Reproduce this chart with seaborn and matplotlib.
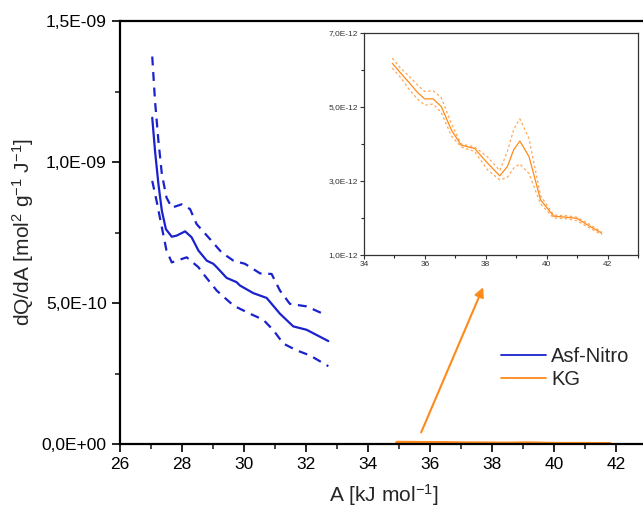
import numpy as np
import pandas as pd
import seaborn as sns
import matplotlib
matplotlib.use("Agg")
import matplotlib.pyplot as plt
from matplotlib.ticker import FuncFormatter, MultipleLocator, FixedLocator, NullFormatter
from matplotlib.lines import Line2D

# ---------------- datos ----------------
# Asf-Nitro (curva media y bandas superior / inferior), dQ/dA en mol2 g-1 J-1
asf_x = [27.04, 27.13, 27.24, 27.35, 27.48, 27.67, 27.83, 28.10, 28.31, 28.53, 28.80,
         29.01, 29.12, 29.44, 29.76, 29.87, 30.30, 30.73, 31.16, 31.59, 32.02, 32.72]
asf_y = [1.157e-9, 1.039e-9, 0.921e-9, 0.827e-9, 0.762e-9, 0.735e-9, 0.739e-9, 0.754e-9,
         0.733e-9, 0.686e-9, 0.650e-9, 0.639e-9, 0.627e-9, 0.589e-9, 0.574e-9, 0.562e-9,
         0.535e-9, 0.518e-9, 0.462e-9, 0.417e-9, 0.405e-9, 0.365e-9]

asf_up_x = [27.04, 27.13, 27.24, 27.35, 27.50, 27.67, 27.99, 28.26, 28.47, 28.90, 29.28,
            29.66, 30.03, 30.52, 30.89, 31.16, 31.48, 32.02, 32.67]
asf_up_y = [1.374e-9, 1.216e-9, 1.074e-9, 0.957e-9, 0.874e-9, 0.838e-9, 0.850e-9, 0.833e-9,
            0.780e-9, 0.727e-9, 0.679e-9, 0.650e-9, 0.639e-9, 0.605e-9, 0.603e-9, 0.544e-9,
            0.497e-9, 0.488e-9, 0.456e-9]

asf_lo_x = [27.04, 27.18, 27.35, 27.50, 27.67, 28.15, 28.53, 28.69, 29.12, 29.66, 30.19,
            30.62, 30.95, 31.27, 31.70, 32.13, 32.72]
asf_lo_y = [0.933e-9, 0.862e-9, 0.768e-9, 0.686e-9, 0.644e-9, 0.662e-9, 0.627e-9, 0.603e-9,
            0.544e-9, 0.491e-9, 0.462e-9, 0.441e-9, 0.403e-9, 0.356e-9, 0.332e-9, 0.314e-9,
            0.276e-9]

# KG (inset)
kg_x = [34.93, 35.20, 35.46, 35.75, 35.99, 36.27, 36.54, 36.87, 37.19, 37.63, 38.06, 38.46,
        38.71, 38.92, 39.12, 39.42, 39.80, 40.23, 40.67, 40.99, 41.43, 41.81]
kg_y = [6.18e-12, 5.92e-12, 5.68e-12, 5.40e-12, 5.22e-12, 5.22e-12, 5.01e-12, 4.38e-12,
        3.97e-12, 3.88e-12, 3.48e-12, 3.14e-12, 3.39e-12, 3.85e-12, 4.08e-12, 3.66e-12,
        2.49e-12, 2.05e-12, 2.02e-12, 1.99e-12, 1.77e-12, 1.59e-12]
kg_up_y = [6.32e-12, 6.05e-12, 5.85e-12, 5.60e-12, 5.42e-12, 5.44e-12, 5.25e-12, 4.55e-12,
           4.00e-12, 3.92e-12, 3.65e-12, 3.28e-12, 3.80e-12, 4.40e-12, 4.68e-12, 4.15e-12,
           2.60e-12, 2.08e-12, 2.06e-12, 2.02e-12, 1.82e-12, 1.62e-12]
kg_lo_y = [6.05e-12, 5.80e-12, 5.50e-12, 5.22e-12, 5.05e-12, 5.08e-12, 4.85e-12, 4.22e-12,
           3.92e-12, 3.80e-12, 3.30e-12, 3.03e-12, 3.10e-12, 3.35e-12, 3.46e-12, 3.20e-12,
           2.38e-12, 2.00e-12, 1.98e-12, 1.93e-12, 1.72e-12, 1.55e-12]

azul = "#1a22cc"
naranja = "#ff8a1c"

sns.set_style("ticks")
plt.rcParams['font.family'] = ['Liberation Sans', 'DejaVu Sans']
plt.rcParams['mathtext.default'] = 'regular'

def fmt_coma(v, pos):
    return f"{v:.1E}".replace('.', ',')

fig = plt.figure(figsize=(6.43, 5.13), dpi=100)
ax = fig.add_axes([120/643, 69/513, 527/643, 423/513])

df_asf = pd.DataFrame({"x": asf_x, "y": asf_y})
df_up = pd.DataFrame({"x": asf_up_x, "y": asf_up_y})
df_lo = pd.DataFrame({"x": asf_lo_x, "y": asf_lo_y})
df_kg = pd.DataFrame({"x": kg_x, "y": kg_y, "up": kg_up_y, "lo": kg_lo_y})

sns.lineplot(data=df_asf, x="x", y="y", ax=ax, color=azul, lw=1.6, sort=False)
sns.lineplot(data=df_up, x="x", y="y", ax=ax, color=azul, lw=1.6, sort=False,
             linestyle=(0, (4, 3)))
sns.lineplot(data=df_lo, x="x", y="y", ax=ax, color=azul, lw=1.6, sort=False,
             linestyle=(0, (4, 3)))
sns.lineplot(data=df_kg, x="x", y="y", ax=ax, color=naranja, lw=2.2, sort=False)

ax.set_xlim(26, 43)
ax.set_ylim(0, 1.5e-9)
ax.xaxis.set_major_locator(FixedLocator([26, 28, 30, 32, 34, 36, 38, 40, 42]))
ax.xaxis.set_minor_locator(FixedLocator([27, 29, 31, 33, 35, 37, 39, 41]))
ax.yaxis.set_major_locator(FixedLocator([0, 5e-10, 1e-9, 1.5e-9]))
ax.yaxis.set_minor_locator(FixedLocator([2.5e-10, 7.5e-10, 1.25e-9]))
ax.yaxis.set_major_formatter(FuncFormatter(fmt_coma))
ax.xaxis.set_minor_formatter(NullFormatter())
ax.yaxis.set_minor_formatter(NullFormatter())
ax.tick_params(which="major", direction="out", length=6, width=1.2, labelsize=12.5, colors="black")
ax.tick_params(which="minor", direction="out", length=3.5, width=1.2)
for s in ax.spines.values():
    s.set_linewidth(1.6)
    s.set_color("black")
ax.set_xlabel("A [kJ mol$^{-1}$]", fontsize=15, labelpad=7)
ax.set_ylabel("dQ/dA [mol$^{2}$ g$^{-1}$ J$^{-1}$]", fontsize=15, labelpad=4)

ax.annotate("", xy=(37.75, 0.565e-9), xytext=(35.68, 0.032e-9),
            arrowprops=dict(arrowstyle="-|>", color=naranja, lw=1.5, mutation_scale=14))

handles = [Line2D([], [], color=azul, lw=1.3), Line2D([], [], color=naranja, lw=1.3)]
fig.legend(handles, ["Asf-Nitro", "KG"], loc="center left", bbox_to_anchor=(501/643, 1 - 368/513),
           frameon=False, fontsize=14.5, handlelength=2.25, handletextpad=0.25, labelspacing=0.2,
           borderpad=0, borderaxespad=0)

# inset
axi = fig.add_axes([364/643, 1 - 255/513, 274/643, 222/513])
sns.lineplot(data=df_kg, x="x", y="y", ax=axi, color=naranja, lw=0.9, sort=False)
sns.lineplot(data=df_kg, x="x", y="up", ax=axi, color=naranja, lw=0.9, sort=False,
             linestyle=(0, (2, 2)), alpha=0.75)
sns.lineplot(data=df_kg, x="x", y="lo", ax=axi, color=naranja, lw=0.9, sort=False,
             linestyle=(0, (2, 2)), alpha=0.75)
axi.set_xlim(34, 43)
axi.set_ylim(1e-12, 7e-12)
axi.xaxis.set_major_locator(FixedLocator([34, 36, 38, 40, 42]))
axi.xaxis.set_minor_locator(FixedLocator([35, 37, 39, 41, 43]))
axi.yaxis.set_major_locator(FixedLocator([1e-12, 3e-12, 5e-12, 7e-12]))
axi.yaxis.set_minor_locator(FixedLocator([2e-12, 4e-12, 6e-12]))
axi.yaxis.set_major_formatter(FuncFormatter(fmt_coma))
axi.xaxis.set_minor_formatter(NullFormatter())
axi.yaxis.set_minor_formatter(NullFormatter())
axi.tick_params(which="major", direction="out", length=3, width=0.8, labelsize=6, pad=1.5,
                colors="#333333")
axi.tick_params(which="minor", direction="out", length=2, width=0.8)
for s in axi.spines.values():
    s.set_linewidth(0.9)
    s.set_color("#333333")
axi.set_xlabel("")
axi.set_ylabel("")

fig.savefig("out.png", dpi=100)
